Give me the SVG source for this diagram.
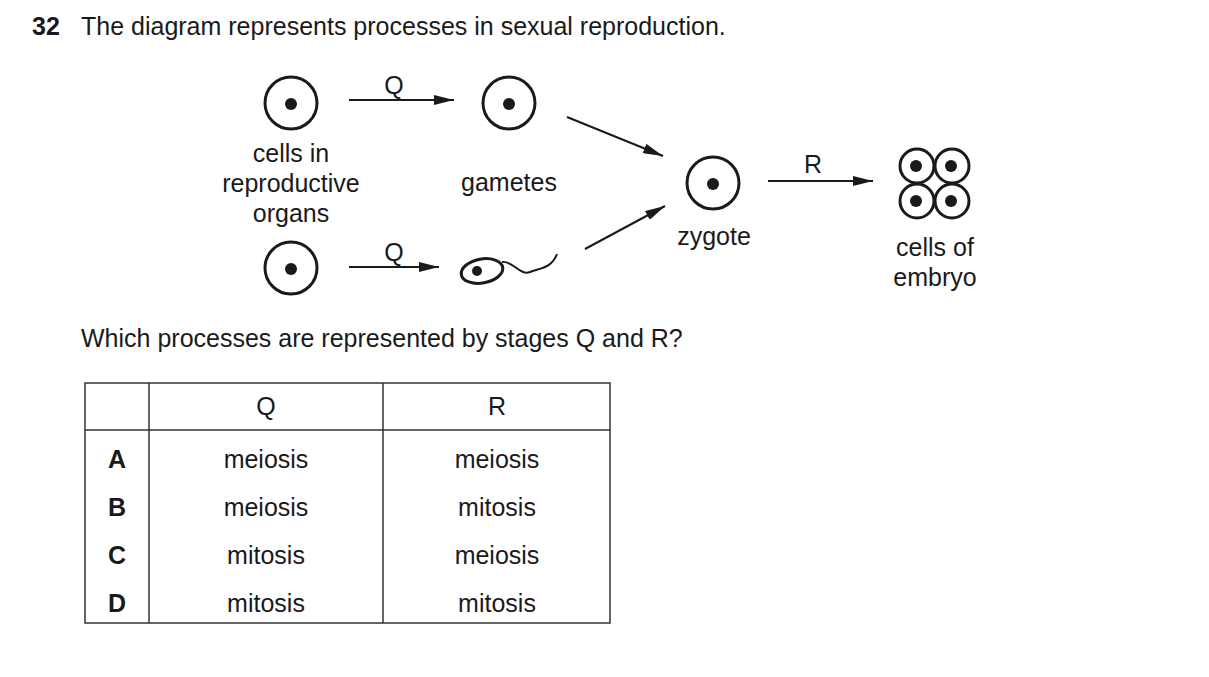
<svg xmlns="http://www.w3.org/2000/svg" width="1209" height="677" viewBox="0 0 1209 677">
<style>
text{font-family:"Liberation Sans",Arial,sans-serif;font-size:25px;fill:#1a1a1a}
.c{fill:none;stroke:#1a1a1a;stroke-width:3}
.d{fill:#1a1a1a}
.l{stroke:#1a1a1a;stroke-width:2;fill:none}
.t{stroke:#333;stroke-width:1.5;fill:none}
</style>
<defs><marker id="a" viewBox="0 0 20 10" refX="20" refY="5" markerWidth="20" markerHeight="10" markerUnits="userSpaceOnUse" orient="auto"><path d="M0 0L20 5L0 10Z" fill="#1a1a1a"/></marker></defs>
<rect width="1209" height="677" fill="#fff"/>
<text x="32" y="35" font-weight="bold">32</text>
<text x="81" y="35">The diagram represents processes in sexual reproduction.</text>
<g id="cell1"><circle class="c" cx="291" cy="103" r="26"/><circle class="d" cx="291" cy="104" r="6"/></g>
<g id="gamete1"><circle class="c" cx="509" cy="103" r="26"/><circle class="d" cx="509" cy="104" r="6"/></g>
<g id="cell2"><circle class="c" cx="291" cy="268" r="26"/><circle class="d" cx="291" cy="269" r="6"/></g>
<g id="sperm"><ellipse class="c" cx="482" cy="271" rx="21" ry="12" transform="rotate(-10 482 271)"/><circle class="d" cx="477" cy="271" r="5"/><path class="c" d="M502 262C512 260 520 276 530 272C540 268 552 268 557 254" style="stroke-width:2"/></g>
<g id="zygote"><circle class="c" cx="713" cy="183" r="26"/><circle class="d" cx="713" cy="184" r="6"/></g>
<g id="embryo"><circle class="c" cx="917" cy="166" r="17"/><circle class="c" cx="952" cy="166" r="17"/><circle class="c" cx="917" cy="201" r="17"/><circle class="c" cx="952" cy="201" r="17"/>
<circle class="d" cx="916" cy="166" r="6"/><circle class="d" cx="951" cy="166" r="6"/><circle class="d" cx="916" cy="201" r="6"/><circle class="d" cx="951" cy="201" r="6"/></g>
<g id="connectors">
<line class="l" x1="349" y1="100" x2="454" y2="100" marker-end="url(#a)"/>
<line class="l" x1="349" y1="267" x2="439" y2="267" marker-end="url(#a)"/>
<line class="l" x1="567" y1="117" x2="663" y2="156" marker-end="url(#a)"/>
<line class="l" x1="585" y1="249" x2="665" y2="206" marker-end="url(#a)"/>
<line class="l" x1="768" y1="181" x2="873" y2="181" marker-end="url(#a)"/>
</g>
<text x="394" y="94" text-anchor="middle">Q</text>
<text x="394" y="261" text-anchor="middle">Q</text>
<text x="813" y="173" text-anchor="middle">R</text>
<g text-anchor="middle">
<text x="291" y="162">cells in</text><text x="291" y="192">reproductive</text><text x="291" y="222">organs</text>
<text x="509" y="191">gametes</text>
<text x="714" y="245">zygote</text>
<text x="935" y="256">cells of</text><text x="935" y="286">embryo</text>
</g>
<text x="81" y="347">Which processes are represented by stages Q and R?</text>
<g id="table">
<rect x="85" y="383" width="525" height="240" class="t"/>
<line class="t" x1="149" y1="383" x2="149" y2="623"/>
<line class="t" x1="383" y1="383" x2="383" y2="623"/>
<line class="t" x1="85" y1="430" x2="610" y2="430"/>
<g text-anchor="middle">
<text x="266" y="415">Q</text><text x="497" y="415">R</text>
<text x="117" y="468" font-weight="bold">A</text><text x="266" y="468">meiosis</text><text x="497" y="468">meiosis</text>
<text x="117" y="516" font-weight="bold">B</text><text x="266" y="516">meiosis</text><text x="497" y="516">mitosis</text>
<text x="117" y="564" font-weight="bold">C</text><text x="266" y="564">mitosis</text><text x="497" y="564">meiosis</text>
<text x="117" y="612" font-weight="bold">D</text><text x="266" y="612">mitosis</text><text x="497" y="612">mitosis</text>
</g></g>
</svg>
